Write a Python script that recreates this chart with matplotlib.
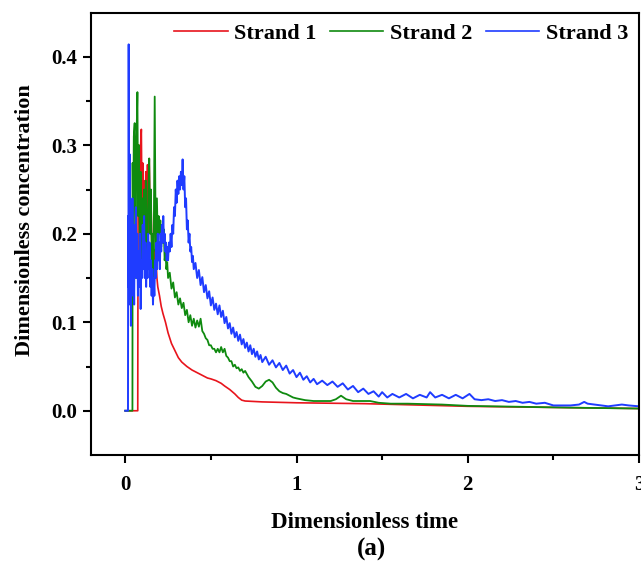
import matplotlib
matplotlib.use("Agg")
import matplotlib.pyplot as plt
from matplotlib.ticker import MultipleLocator, FixedLocator
import numpy as np

plt.rcParams['font.family'] = ['Liberation Serif', 'DejaVu Serif']
plt.rcParams['font.weight'] = 'bold'

# Strand 1 (red)
t1 = [0, 0.073, 0.075, 0.08, 0.085, 0.09, 0.094, 0.098, 0.102, 0.106, 0.11, 0.115, 0.12,
      0.125, 0.13, 0.135, 0.14, 0.145, 0.15, 0.155, 0.16, 0.165, 0.17, 0.175, 0.18, 0.185,
      0.19, 0.2, 0.21, 0.22, 0.235, 0.25, 0.27, 0.29, 0.31, 0.33, 0.36, 0.39, 0.42, 0.45,
      0.48, 0.5, 0.53, 0.56, 0.58, 0.61, 0.64, 0.66, 0.68, 0.7, 0.75, 0.8, 0.9, 1.0, 1.2,
      1.4, 1.6, 1.8, 2.0, 2.2, 2.4, 2.6, 2.8, 3.0]
c1 = [0, 0, 0.24, 0.3, 0.21, 0.3, 0.318, 0.22, 0.28, 0.19, 0.26, 0.2, 0.27,
      0.21, 0.278, 0.2, 0.285, 0.22, 0.24, 0.19, 0.2, 0.17, 0.182, 0.16, 0.17, 0.15,
      0.14, 0.13, 0.118, 0.11, 0.1, 0.088, 0.076, 0.068, 0.06, 0.055, 0.05, 0.046, 0.043, 0.04,
      0.037, 0.036, 0.034, 0.031, 0.028, 0.024, 0.019, 0.015, 0.012, 0.011, 0.0105, 0.010, 0.0095, 0.009, 0.0085,
      0.008, 0.007, 0.006, 0.005, 0.0045, 0.004, 0.0035, 0.003, 0.0025]

# Strand 2 (green)
t2 = [0, 0.042, 0.043, 0.046, 0.05, 0.055, 0.06, 0.065, 0.071, 0.075, 0.08, 0.085, 0.09,
      0.095, 0.1, 0.105, 0.11, 0.115, 0.12, 0.125, 0.13, 0.135, 0.14, 0.145, 0.15, 0.155,
      0.16, 0.165, 0.172, 0.178, 0.185, 0.19, 0.195, 0.2, 0.205, 0.21, 0.215, 0.22, 0.225,
      0.23, 0.235, 0.24, 0.245, 0.25, 0.26, 0.27, 0.28, 0.29, 0.3, 0.31, 0.32, 0.33, 0.34,
      0.35, 0.36, 0.37, 0.38, 0.39, 0.4, 0.41, 0.42, 0.43, 0.44, 0.45, 0.46, 0.47, 0.48,
      0.49, 0.5, 0.51, 0.52, 0.53, 0.54, 0.55, 0.56, 0.57, 0.58, 0.59, 0.6, 0.61, 0.62,
      0.63, 0.64, 0.65, 0.66, 0.67, 0.68, 0.69, 0.7, 0.72, 0.74, 0.76, 0.78, 0.8, 0.82,
      0.84, 0.86, 0.88, 0.9, 0.92, 0.94, 0.96, 0.98, 1.0, 1.05, 1.1, 1.15, 1.2, 1.23, 1.26,
      1.29, 1.33, 1.38, 1.43, 1.48, 1.55, 1.65, 1.75, 1.85, 2.0, 2.3, 2.6, 3.0]
c2 = [0, 0, 0.28, 0.2, 0.31, 0.325, 0.15, 0.3, 0.36, 0.22, 0.3, 0.18, 0.27,
      0.16, 0.24, 0.17, 0.25, 0.18, 0.26, 0.2, 0.18, 0.25, 0.285, 0.2, 0.25, 0.16,
      0.2, 0.15, 0.355, 0.18, 0.24, 0.19, 0.22, 0.2, 0.215, 0.185, 0.21, 0.19, 0.205,
      0.17, 0.18, 0.16, 0.168, 0.15, 0.156, 0.138, 0.145, 0.128, 0.134, 0.12, 0.127, 0.116, 0.122,
      0.108, 0.114, 0.1, 0.108, 0.096, 0.104, 0.094, 0.102, 0.095, 0.104, 0.09, 0.087, 0.082, 0.08,
      0.074, 0.074, 0.07, 0.07, 0.066, 0.07, 0.066, 0.072, 0.066, 0.07, 0.062, 0.06, 0.056, 0.056,
      0.05, 0.052, 0.048, 0.049, 0.045, 0.047, 0.043, 0.045, 0.038, 0.033, 0.027, 0.025, 0.028, 0.033,
      0.035, 0.032, 0.026, 0.022, 0.02, 0.019, 0.017, 0.015, 0.014, 0.012, 0.011, 0.011, 0.011, 0.013, 0.017,
      0.013, 0.011, 0.011, 0.011, 0.009, 0.008, 0.008, 0.0075, 0.007, 0.0055, 0.0045, 0.0035, 0.0025]

# Strand 3 (blue)
t3 = [0, 0.016, 0.017, 0.019, 0.02, 0.022, 0.025, 0.028, 0.031, 0.033, 0.036, 0.039, 0.042,
      0.045, 0.048, 0.052, 0.055, 0.058, 0.062, 0.066, 0.07, 0.074, 0.078, 0.082, 0.086, 0.09,
      0.094, 0.098, 0.102, 0.106, 0.11, 0.114, 0.118, 0.122, 0.126, 0.13, 0.134, 0.138, 0.142,
      0.146, 0.15, 0.154, 0.158, 0.162, 0.166, 0.17, 0.174, 0.178, 0.182, 0.186, 0.19, 0.194,
      0.198, 0.202, 0.206, 0.21, 0.214, 0.218, 0.222, 0.226, 0.23, 0.234, 0.238, 0.242, 0.246,
      0.25, 0.255, 0.26, 0.265, 0.27, 0.275, 0.28, 0.285, 0.29, 0.295, 0.3, 0.305, 0.31, 0.315,
      0.32, 0.325, 0.33, 0.335, 0.34, 0.345, 0.35, 0.355, 0.36, 0.365, 0.37, 0.375, 0.38, 0.385,
      0.39, 0.395, 0.4, 0.41, 0.42, 0.43, 0.44, 0.45, 0.46, 0.47, 0.48, 0.49, 0.5, 0.51, 0.52,
      0.53, 0.54, 0.55, 0.56, 0.57, 0.58, 0.59, 0.6, 0.61, 0.62, 0.63, 0.64, 0.65, 0.66, 0.67,
      0.68, 0.69, 0.7, 0.71, 0.72, 0.73, 0.74, 0.75, 0.76, 0.77, 0.78, 0.79, 0.8, 0.82, 0.84,
      0.86, 0.88, 0.9, 0.92, 0.94, 0.96, 0.98, 1.0, 1.02, 1.04, 1.06, 1.08, 1.1, 1.12, 1.15,
      1.18, 1.21, 1.24, 1.27, 1.3, 1.33, 1.36, 1.39, 1.42, 1.45, 1.48, 1.5, 1.53, 1.56, 1.6,
      1.64, 1.68, 1.72, 1.76, 1.78, 1.81, 1.85, 1.89, 1.93, 1.97, 2.01, 2.04, 2.08, 2.12, 2.16,
      2.2, 2.24, 2.28, 2.32, 2.36, 2.4, 2.45, 2.5, 2.55, 2.6, 2.65, 2.68, 2.7, 2.74, 2.78, 2.82,
      2.86, 2.9, 2.94, 3.0]
c3 = [0, 0, 0.22, 0.14, 0.414, 0.12, 0.29, 0.16, 0.21, 0.096, 0.2, 0.14, 0.24,
      0.13, 0.19, 0.12, 0.21, 0.16, 0.23, 0.15, 0.2, 0.13, 0.18, 0.14, 0.2, 0.115,
      0.17, 0.15, 0.21, 0.16, 0.22, 0.15, 0.19, 0.14, 0.18, 0.15, 0.2, 0.16, 0.19,
      0.14, 0.17, 0.13, 0.16, 0.12, 0.15, 0.13, 0.17, 0.15, 0.19, 0.16, 0.2, 0.17,
      0.19, 0.16, 0.2, 0.18, 0.21, 0.19, 0.22, 0.19, 0.2, 0.18, 0.19, 0.17, 0.185,
      0.17, 0.19, 0.18, 0.2, 0.185, 0.21, 0.2, 0.23, 0.22, 0.25, 0.235, 0.26, 0.245, 0.265,
      0.25, 0.27, 0.255, 0.284, 0.25, 0.265, 0.23, 0.24, 0.205, 0.215, 0.19, 0.2, 0.18, 0.185,
      0.168, 0.175, 0.16, 0.167, 0.15, 0.159, 0.142, 0.151, 0.134, 0.142, 0.127, 0.135, 0.119, 0.128, 0.114,
      0.121, 0.109, 0.119, 0.106, 0.113, 0.099, 0.106, 0.093, 0.099, 0.087, 0.094, 0.083, 0.089, 0.079, 0.086,
      0.075, 0.081, 0.071, 0.077, 0.067, 0.074, 0.064, 0.07, 0.061, 0.067, 0.058, 0.063, 0.055, 0.061, 0.052,
      0.057, 0.049, 0.054, 0.046, 0.051, 0.042, 0.046, 0.038, 0.043, 0.035, 0.039, 0.032, 0.036, 0.03, 0.034,
      0.029, 0.033, 0.027, 0.031, 0.024, 0.028, 0.021, 0.025, 0.019, 0.022, 0.016, 0.021, 0.015, 0.019, 0.015,
      0.019, 0.014, 0.018, 0.015, 0.021, 0.015, 0.018, 0.014, 0.018, 0.014, 0.019, 0.013, 0.012, 0.013, 0.011,
      0.012, 0.01, 0.011, 0.009, 0.01, 0.008, 0.009, 0.006, 0.006, 0.006, 0.007, 0.01, 0.008, 0.007, 0.006, 0.005,
      0.006, 0.007, 0.006, 0.005]

series = [(t1, c1, '#e8141c', 'Strand 1', 1.2),
          (t2, c2, '#0f8a0f', 'Strand 2', 1.3),
          (t3, c3, '#1f3cff', 'Strand 3', 1.4)]

fig = plt.figure(figsize=(6.41, 5.63), dpi=100)
ax = fig.add_axes([91/641, 108/563, 548/641, 442.5/563])

for t, c, col, lab, lw in series:
    ax.plot(t, c, color=col, lw=lw, label=lab)

ax.set_xlim(-0.2, 3.0)
ax.set_ylim(-0.05, 0.45)
ax.xaxis.set_major_locator(MultipleLocator(1))
ax.xaxis.set_minor_locator(FixedLocator([0.5, 1.5, 2.5]))
ax.yaxis.set_major_locator(MultipleLocator(0.1))
ax.yaxis.set_minor_locator(FixedLocator([0.05, 0.15, 0.25, 0.35]))
ax.yaxis.set_major_formatter(plt.FuncFormatter(lambda v, p: f'{v:.1f}'))

for s in ax.spines.values():
    s.set_linewidth(1.5)
ax.tick_params(which='major', direction='out', length=6, width=1.5, labelsize=15)
ax.tick_params(which='minor', direction='out', length=3.5, width=1.5)
ax.tick_params(axis='x', which='major', pad=8.5)
ax.tick_params(axis='y', which='major', pad=4)

ax.set_xlabel('Dimensionless time', fontsize=16.5, fontweight='bold')
ax.set_ylabel('Dimensionless concentration', fontsize=16, fontweight='bold')
ax.xaxis.set_label_coords(0.5, -0.129)
ax.yaxis.set_label_coords(-0.103, 0.531)

fig.text(372/641, 1 - 549/563, '(a)', fontsize=18, fontweight='bold', ha='center', va='center')

leg = ax.legend(loc='center right', bbox_to_anchor=(628/641, 1 - 33.5/563),
                bbox_transform=fig.transFigure, ncol=3, frameon=False,
                prop={'size': 16, 'weight': 'bold'}, handlelength=2.4,
                handletextpad=0.3, columnspacing=0.6, borderpad=0, borderaxespad=0)
for h in leg.get_lines():
    h.set_linewidth(1.2)

fig.savefig('out.png', dpi=100)
